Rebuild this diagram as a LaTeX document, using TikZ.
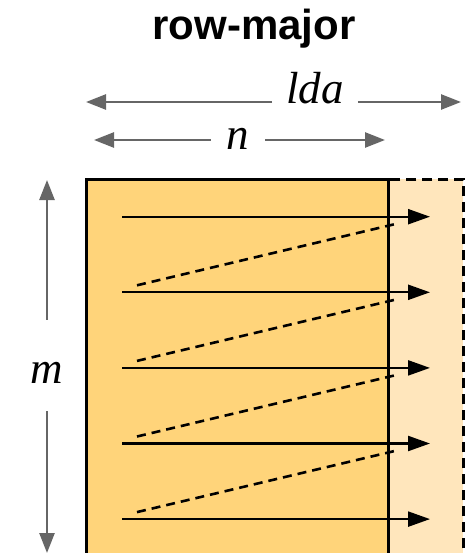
\documentclass[tikz,border=0pt]{standalone}
\usepackage{fontspec}
\setsansfont{Liberation Sans}
\newfontfamily\varfont{Liberation Serif}
\usetikzlibrary{arrows.meta, positioning}
\definecolor{matfill}{HTML}{FFD47A}
\definecolor{padfill}{HTML}{FFE6BC}
\definecolor{dimgray}{HTML}{666666}

\begin{document}
\begin{tikzpicture}[x=1pt, y=-1pt,
        dim/.style={-{Triangle[length=20pt,width=15pt]}, line width=2.6pt, dimgray},
        rowarr/.style={-{Triangle[length=22pt,width=15pt]}, line width=2.3pt, black},
        ret/.style={line width=2.6pt, dash pattern=on 9pt off 6pt},
        var/.style={font=\varfont\itshape\fontsize{45}{50}\selectfont, anchor=base},
        mat/.style={rectangle, draw, line width=2.6pt, fill=matfill, anchor=north west,
                    minimum width=302pt, minimum height=440pt, inner sep=0pt},
        pad/.style={rectangle, draw, line width=2.6pt, dash pattern=on 10pt off 6pt,
                    fill=padfill, anchor=north west,
                    minimum width=377pt, minimum height=440pt, inner sep=0pt}]
      \useasboundingbox (0,0) rectangle (472,553);
      \node[font=\sffamily\bfseries\fontsize{42}{48}\selectfont, anchor=base] (title) at (254,40) {row-major};
      % dimensions
      \node[var, inner xsep=14pt] (lda) at (315,104) {lda};
      \node[var, inner xsep=16pt] (n) at (238,150) {n};
      \node[var, inner sep=0pt] (m) at (47,383) {m};
      \coordinate (lda-l) at (86,102);
      \coordinate (lda-r) at (461,102);
      \coordinate (n-l) at (94,140);
      \coordinate (n-r) at (385,140);
      \coordinate (m-t) at (47,180);
      \coordinate (m-b) at (47,553);
      \draw[dim] (lda.west |- lda-l) -- (lda-l);
      \draw[dim] (lda.east |- lda-r) -- (lda-r);
      \draw[dim] (n.west |- n-l) -- (n-l);
      \draw[dim] (n.east |- n-r) -- (n-r);
      \draw[dim] ([yshift=42pt]m.north) -- (m-t);
      \draw[dim] ([yshift=-28pt]m.south) -- (m-b);
      % storage
      \node[pad] (padding) at (85,178) {};
      \node[mat] (A) at (85,178) {};
      \foreach \i in {1,...,5} {
        \coordinate (s\i) at (122,{216.7+75.6*(\i-1)});
        \coordinate (e\i) at (430,{216.7+75.6*(\i-1)});
        \coordinate (a\i) at (137,{209.7+75.6*(\i-1)});
        \coordinate (b\i) at (398,{223.4+75.6*(\i-1)});
        \draw[rowarr] (s\i) -- (e\i);
      }
      \foreach \i [evaluate=\i as \j using int(\i+1)] in {1,...,4}
        \draw[ret] (a\j) -- (b\i);
    \end{tikzpicture}
\end{document}
